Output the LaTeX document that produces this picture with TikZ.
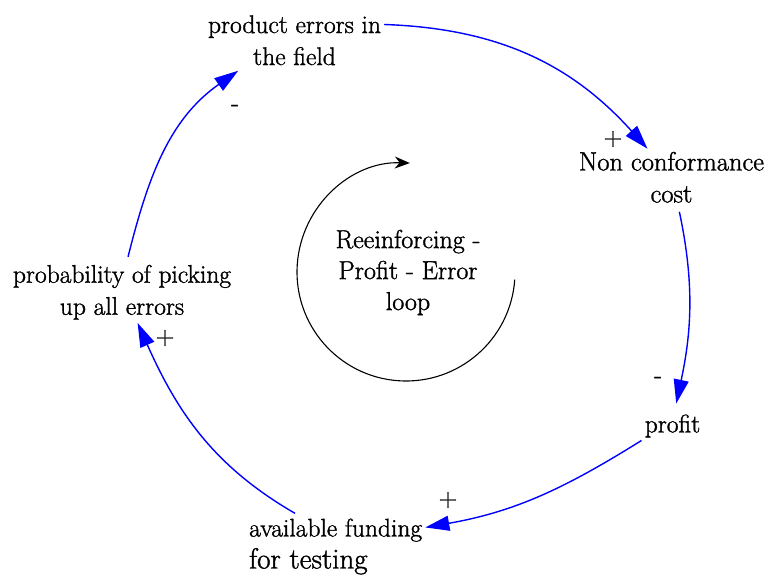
\documentclass[tikz,border=0pt]{standalone}
\usepackage{fontspec}
\setmainfont{Latin Modern Roman}[FakeBold=1.3]
\usetikzlibrary{arrows.meta}
\definecolor{linkblue}{RGB}{0,0,255}
\begin{document}
\begin{tikzpicture}[x=1pt,y=1pt,
  var/.style={font=\fontsize{25.5}{32}\selectfont, align=center, inner sep=3pt},
  sign/.style={font=\fontsize{25.5}{30}\selectfont, inner sep=0pt},
  link/.style={draw=linkblue, line width=1.4pt, -{Triangle[length=24pt,width=15pt]}},
  loopline/.style={draw=black, line width=1.1pt, -{Stealth[length=15pt,width=12pt]}}]
\useasboundingbox (0,0) rectangle (767,576);

% variables
\node[var] (pe) at (294.5,535.7) {product errors in\\the field};
\node[var, font=\fontsize{26.5}{32}\selectfont] (nc) at (671.5,398.7) {Non conformance\\cost};
\node[var] (pr) at (672.5,150) {profit};
\node[var, align=left, anchor=west] (af) at (246,29.5)
  {available funding\\\fontsize{29}{30}\selectfont for testing};
\node[var] (pb) at (122,283.7) {probability of picking\\up all errors};

% loop identifier
\node[var, font=\fontsize{26}{31}\selectfont] (lp) at (408,303.5)
  {Reeinforcing -\\Profit - Error\\loop};
\coordinate (lc) at (406,304);
\draw[loopline] (lc) ++(-4:109pt) arc[start angle=-4,end angle=-272,radius=109pt];

% causal links
\draw[link] (pe.10) to[out=-2,in=132] (nc.130);
\draw[link, shorten <=6pt, shorten >=8pt] (nc.-77) to[out=-78,in=78] (pr.82);
\draw[link] (pr.205) to[out=212,in=10] (af.12);
\draw[link, shorten <=4pt] (af.140) to[out=150,in=-66] (pb.-63);
\draw[link, shorten <=5pt, shorten >=4pt] (pb.81) to[out=76,in=215] (pe.208);

% link polarities
\node[sign] (s1) at (613,437) {+};
\node[sign] (s2) at (658,196) {-};
\node[sign] (s3) at (448,76) {+};
\node[sign] (s4) at (165,238) {+};
\node[sign] (s5) at (235,468) {-};
\end{tikzpicture}
\end{document}
